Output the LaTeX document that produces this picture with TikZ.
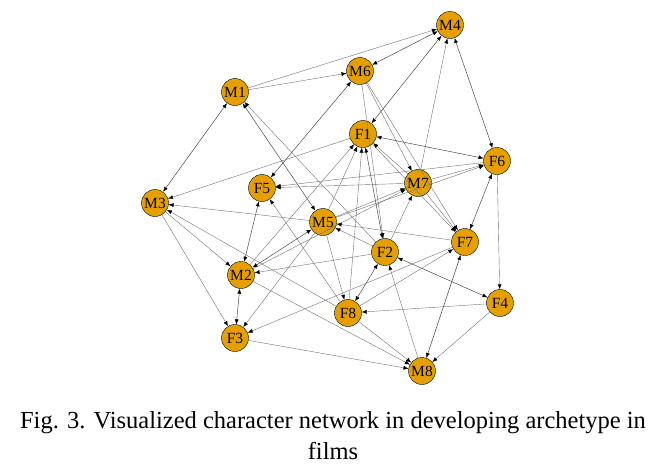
\documentclass[tikz,border=0pt]{standalone}
\usepackage{fontspec}
\setmainfont{Liberation Serif}
\usepackage{xcolor}
\usetikzlibrary{arrows.meta, positioning}

\definecolor{vorange}{HTML}{E69F00}

\begin{document}
\begin{tikzpicture}[
    x=1pt, y=-1pt,
    person/.style={circle, draw=black, fill=vorange, inner sep=0pt, minimum size=27pt, font=\fontsize{15.5}{15.5}\selectfont},
    line/.style={-{Latex[length=5pt, width=4pt, color=black]}, draw=black!55, line width=0.4pt},
    both/.style={{Latex[length=5pt, width=4pt, color=black]}-{Latex[length=5pt, width=4pt, color=black]}, draw=black!70, line width=0.5pt}
]
\useasboundingbox (0,0) rectangle (664,472);

% Characters (male)
\node[person] (M1) at (235,92) {M1};
\node[person] (M2) at (241,275) {M2};
\node[person] (M3) at (155,203) {M3};
\node[person] (M4) at (450,25) {M4};
\node[person] (M5) at (323,222) {M5};
\node[person] (M6) at (360,71) {M6};
\node[person] (M7) at (418,183) {M7};
\node[person] (M8) at (422,371) {M8};

% Characters (female)
\node[person] (F1) at (363,134) {F1};
\node[person] (F2) at (385,252) {F2};
\node[person] (F3) at (235,338) {F3};
\node[person] (F4) at (500,303) {F4};
\node[person] (F5) at (262,188) {F5};
\node[person] (F6) at (497,161) {F6};
\node[person] (F7) at (465,242) {F7};
\node[person] (F8) at (348,313) {F8};

% Ties
\draw[line] (M1) -- (M4);
\draw[line] (M1) -- (M6);
\draw[both] (M6) -- (M4);
\draw[both] (M1) -- (M3);
\draw[both] (M1) -- (M5);
\draw[line] (F2) -- (M1);
\draw[both] (M6) -- (F5);
\draw[line] (M6) -- (M7);
\draw[line] (M6) -- (F7);
\draw[line] (M6) -- (F2);
\draw[both] (M4) -- (F1);
\draw[both] (M4) -- (F6);
\draw[line] (M7) -- (M4);
\draw[line] (F1) -- (M3);
\draw[both] (F1) -- (F6);
\draw[line] (F6) -- (F5);
\draw[line] (M7) -- (F5);
\draw[line] (M7) -- (F6);
\draw[line] (M5) -- (F6);
\draw[both] (F7) -- (F6);
\draw[line] (F6) -- (F4);
\draw[line] (M7) -- (F7);
\draw[line] (F1) -- (F7);
\draw[line] (F2) -- (M7);
\draw[line] (M5) -- (M7);
\draw[line] (M2) -- (M7);
\draw[line] (M7) -- (F1);
\draw[line] (M2) -- (F1);
\draw[line] (M5) -- (F1);
\draw[both] (F2) -- (F1);
\draw[line] (F8) -- (F1);
\draw[line] (F2) -- (M5);
\draw[line] (F7) -- (M5);
\draw[both] (F2) -- (F4);
\draw[line] (F4) -- (F8);
\draw[line] (F4) -- (M8);
\draw[line] (M8) -- (F2);
\draw[both] (M8) -- (F7);
\draw[both] (F8) -- (F2);
\draw[line] (F8) -- (M8);
\draw[line] (M5) -- (F8);
\draw[line] (F8) -- (F5);
\draw[line] (F8) -- (F7);
\draw[both] (M2) -- (F5);
\draw[both] (M2) -- (F3);
\draw[line] (M3) -- (M2);
\draw[line] (M3) -- (F3);
\draw[both] (M2) -- (M5);
\draw[line] (F2) -- (M2);
\draw[line] (F3) -- (M8);
\draw[line] (M2) -- (M8);
\draw[line] (M5) -- (F3);
\draw[line] (F7) -- (F3);
\draw[line] (M5) -- (M3);
\draw[line] (F8) -- (M3);

% Caption
\node[font=\fontsize{24.5}{31}\selectfont, align=center] (caption) at (333,436)
  {Fig. 3. Visualized character network in developing archetype in\\films};

\end{tikzpicture}
\end{document}
